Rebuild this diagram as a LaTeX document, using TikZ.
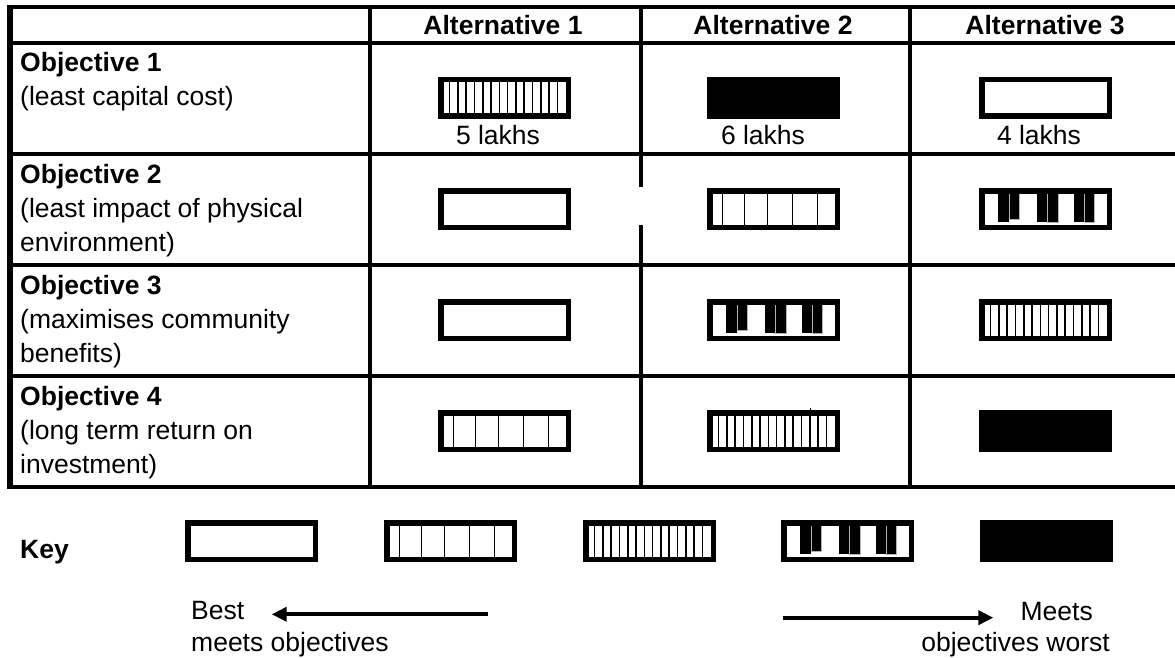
\documentclass[tikz,border=0pt]{standalone}
\usepackage{fontspec}
\setmainfont{Liberation Sans}
\usetikzlibrary{arrows.meta}

\tikzset{
  rule/.style={line width=4pt},
  edge/.style={line width=6pt},
  txt/.style={inner sep=0pt, font=\fontsize{26.5pt}{34pt}\selectfont},
  head/.style={inner sep=0pt, font=\fontsize{26.5pt}{34pt}\selectfont\bfseries, anchor=base},
  lbl/.style={txt, anchor=base west},
  boldlbl/.style={head, anchor=base west},
  cost/.style={txt, anchor=base},
  frame/.style={line width=5.5pt},
  hair/.style={line width=1pt},
  stripe/.style={line width=1.6pt},
  keyarrow/.style={line width=4pt, -{Triangle[length=15pt,width=14pt]}},
  % rating bars, 133 x 42, origin at the top-left corner
  emptybar/.pic={
    \draw[frame, fill=white] (2.75,2.75) rectangle (130.25,39.25);
  },
  widebar/.pic={
    \foreach \u in {15,37,60,85,110} \draw[hair] (\u,5.5) -- (\u,36.5);
    \draw[frame] (2.75,2.75) rectangle (130.25,39.25);
  },
  densebar/.pic={
    \foreach \k in {0,...,13} \draw[stripe] ({11.5+8.3*\k},5.5) -- ({11.5+8.3*\k},36.5);
    \draw[frame] (2.75,2.75) rectangle (130.25,39.25);
  },
  blockbar/.pic={
    \fill (19,5.5) rectangle (30,33.5);
    \filldraw[draw=gray!60, line width=0.8pt] (30,5.5) rectangle (40,31);
    \fill (58,5.5) rectangle (68,33.5);
    \filldraw[draw=gray!60, line width=0.8pt] (68,5.5) rectangle (79,34);
    \fill (95,5.5) rectangle (105,33.5);
    \filldraw[draw=gray!60, line width=0.8pt] (105,5.5) rectangle (115,34.5);
    \draw[frame] (2.75,2.75) rectangle (130.25,39.25);
  },
  blackbar/.pic={
    \fill (0,0) rectangle (133,42);
  },
}

\begin{document}
\begin{tikzpicture}[x=1pt, y=-1pt]
\useasboundingbox (0,0) rectangle (1175,658);

% table rules
\draw[edge] (9.5,4.7) -- (9.5,489);
\foreach \yy in {6.7,42.8,153.8,264.8,375.8,486.9}
  \draw[rule] (6.5,\yy) -- (1175,\yy);
\draw[rule] (370,4.7) -- (370,488.9);
\draw[rule] (640.5,4.7) -- (640.5,187.3);
\draw[rule] (640.5,225) -- (640.5,488.9);
\draw[rule] (909.5,4.7) -- (909.5,488.9);

% column heads
\node[head] (alt1) at (503,35) {Alternative 1};
\node[head] (alt2) at (773,35) {Alternative 2};
\node[head] (alt3) at (1045,35) {Alternative 3};

% objectives
\node[boldlbl] (ob1) at (20,72) {Objective 1};
\node[lbl] (ob1a) at (20,106) {(least capital cost)};

\node[boldlbl] (ob2) at (20,183) {Objective 2};
\node[lbl] (ob2a) at (20,217) {(least impact of physical};
\node[lbl] (ob2b) at (20,251) {environment)};

\node[boldlbl] (ob3) at (20,294) {Objective 3};
\node[lbl] (ob3a) at (20,328) {(maximises community};
\node[lbl] (ob3b) at (20,362) {benefits)};

\node[boldlbl] (ob4) at (20,405) {Objective 4};
\node[lbl] (ob4a) at (20,439) {(long term return on};
\node[lbl] (ob4b) at (20,473) {investment)};

% ratings
\pic at (438,77) {densebar};
\pic at (707,77) {blackbar};
\pic at (979,77) {emptybar};
\node[cost] (cost1) at (498,145) {5 lakhs};
\node[cost] (cost2) at (763,145) {6 lakhs};
\node[cost] (cost3) at (1039,145) {4 lakhs};

\pic at (438,188) {emptybar};
\pic at (707,188) {widebar};
\pic at (979,188) {blockbar};

\pic at (438,299) {emptybar};
\pic at (707,299) {blockbar};
\pic at (979,299) {densebar};

\pic at (438,410) {widebar};
\pic at (707,410) {densebar};
\draw[hair] (810.7,407.5) -- (810.7,447);
\pic at (979,410) {blackbar};

% key
\node[boldlbl] (key) at (20,558) {Key};
\pic at (185,520) {emptybar};
\pic at (384,520) {widebar};
\pic at (583,520) {densebar};
\pic at (781,520) {blockbar};
\pic at (980,520) {blackbar};

\node[lbl] (best) at (191,619) {Best};
\node[lbl] (bestb) at (191,651) {meets objectives};
\coordinate (bestTail) at (488,614.3);
\coordinate (bestTip) at (271.7,614.3);
\draw[keyarrow] (bestTail) -- (bestTip);

\node[txt, anchor=base east] (worst) at (1093,620) {Meets};
\node[txt, anchor=base east] (worstb) at (1110,651) {objectives worst};
\coordinate (worstTail) at (782.7,617.7);
\coordinate (worstTip) at (993.3,617.7);
\draw[keyarrow] (worstTail) -- (worstTip);
\end{tikzpicture}
\end{document}
